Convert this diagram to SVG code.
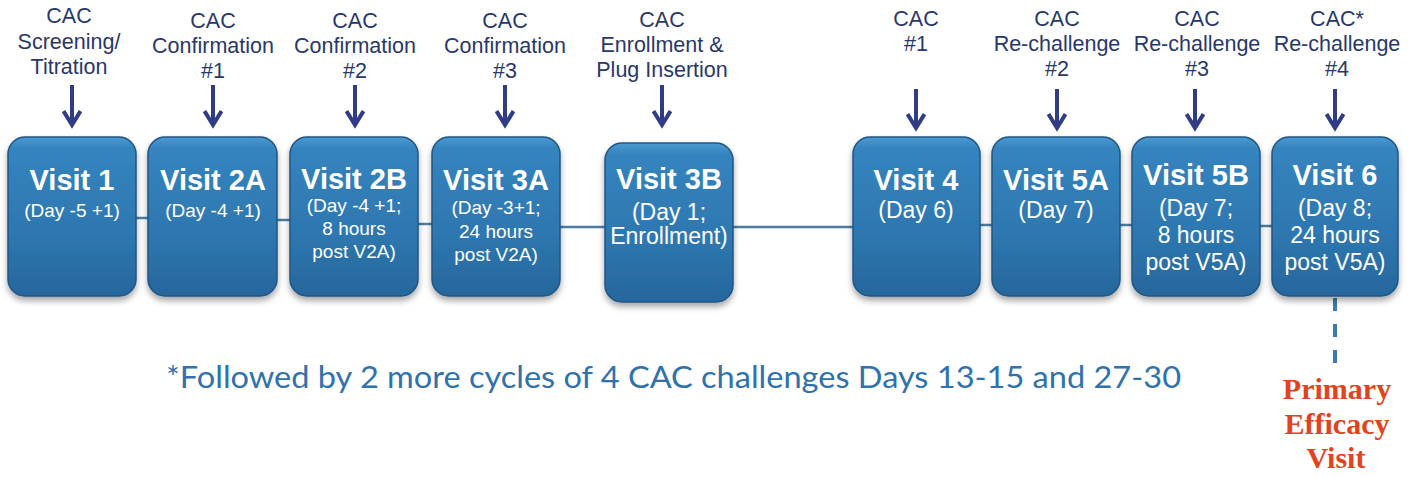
<svg xmlns="http://www.w3.org/2000/svg" width="1420" height="477" viewBox="0 0 1420 477">
<defs>
<linearGradient id="boxg" x1="0" y1="0" x2="0" y2="1">
<stop offset="0" stop-color="#4d99d1"/>
<stop offset="0.07" stop-color="#3584be"/>
<stop offset="0.6" stop-color="#2e77b0"/>
<stop offset="1" stop-color="#26679c"/>
</linearGradient>
<filter id="sh" x="-10%" y="-10%" width="120%" height="125%">
<feDropShadow dx="0" dy="4" stdDeviation="3" flood-color="#000" flood-opacity="0.35"/>
</filter>
<marker id="ah" viewBox="0 0 20 20" refX="16" refY="10" markerWidth="20" markerHeight="20" markerUnits="userSpaceOnUse" orient="auto">
<path d="M2,1.5 L16,10 L2,18.5" fill="none" stroke="#303c86" stroke-width="4" stroke-linejoin="miter"/>
</marker>
</defs>
<style>
.box{fill:url(#boxg);stroke:#1f5686;stroke-width:1.5;filter:url(#sh)}
.t{font-family:"Liberation Sans",Arial,sans-serif;font-weight:bold;font-size:29px;fill:#ffffff;text-anchor:middle}
.s{font-family:"Liberation Sans",Arial,sans-serif;font-size:19px;fill:#ffffff;text-anchor:middle}
.s2{font-family:"Liberation Sans",Arial,sans-serif;font-size:23px;fill:#ffffff;text-anchor:middle}
.lab{font-family:"Liberation Sans",Arial,sans-serif;font-size:21.5px;fill:#28386a;text-anchor:middle}
.arr{stroke:#303c86;stroke-width:4;fill:none}
.conn{stroke:#4a7ea6;stroke-width:2.5}
.note{font-family:Lato,"Open Sans",sans-serif;font-size:30px;fill:#2f72ad}
.pe{font-family:"Liberation Serif","Times New Roman",serif;font-weight:bold;font-size:30px;fill:#e2431d;text-anchor:middle}
</style>

<g id="connectors">
<line class="conn" x1="136" y1="218" x2="148" y2="218"/>
<line class="conn" x1="277" y1="220" x2="290" y2="220"/>
<line class="conn" x1="418" y1="224" x2="432" y2="224"/>
<line class="conn" x1="560" y1="227" x2="605" y2="227"/>
<line class="conn" x1="733" y1="227" x2="853" y2="227"/>
<line class="conn" x1="980" y1="225" x2="992" y2="225"/>
<line class="conn" x1="1120" y1="225" x2="1132" y2="225"/>
<line class="conn" x1="1260" y1="226" x2="1272" y2="226"/>
<line x1="1335" y1="298" x2="1335" y2="368" stroke="#3d7ab0" stroke-width="4" stroke-dasharray="13 13"/>
</g>

<g id="arrows">
<line class="arr" x1="72" y1="85" x2="72" y2="125" marker-end="url(#ah)"/>
<line class="arr" x1="213" y1="85" x2="213" y2="125" marker-end="url(#ah)"/>
<line class="arr" x1="355" y1="85" x2="355" y2="125" marker-end="url(#ah)"/>
<line class="arr" x1="505" y1="85" x2="505" y2="125" marker-end="url(#ah)"/>
<line class="arr" x1="662" y1="85" x2="662" y2="125" marker-end="url(#ah)"/>
<line class="arr" x1="916" y1="89" x2="916" y2="128" marker-end="url(#ah)"/>
<line class="arr" x1="1057" y1="89" x2="1057" y2="128" marker-end="url(#ah)"/>
<line class="arr" x1="1195" y1="89" x2="1195" y2="128" marker-end="url(#ah)"/>
<line class="arr" x1="1335" y1="89" x2="1335" y2="128" marker-end="url(#ah)"/>
</g>

<g id="labels">
<text class="lab" x="69" y="23">CAC</text>
<text class="lab" x="69" y="49">Screening/</text>
<text class="lab" x="69" y="74">Titration</text>
<text class="lab" x="213" y="28">CAC</text>
<text class="lab" x="213" y="53">Confirmation</text>
<text class="lab" x="213" y="78">#1</text>
<text class="lab" x="355" y="28">CAC</text>
<text class="lab" x="355" y="53">Confirmation</text>
<text class="lab" x="355" y="78">#2</text>
<text class="lab" x="505" y="28">CAC</text>
<text class="lab" x="505" y="53">Confirmation</text>
<text class="lab" x="505" y="78">#3</text>
<text class="lab" x="662" y="27">CAC</text>
<text class="lab" x="662" y="52">Enrollment &amp;</text>
<text class="lab" x="662" y="77">Plug Insertion</text>
<text class="lab" x="916" y="26">CAC</text>
<text class="lab" x="916" y="51">#1</text>
<text class="lab" x="1057" y="26">CAC</text>
<text class="lab" x="1057" y="51">Re-challenge</text>
<text class="lab" x="1057" y="76">#2</text>
<text class="lab" x="1197" y="26">CAC</text>
<text class="lab" x="1197" y="51">Re-challenge</text>
<text class="lab" x="1197" y="76">#3</text>
<text class="lab" x="1337" y="26">CAC*</text>
<text class="lab" x="1337" y="51">Re-challenge</text>
<text class="lab" x="1337" y="76">#4</text>
</g>

<g id="v1">
<rect class="box" x="8" y="137" width="128" height="159" rx="17"/>
<text class="t" x="72" y="190">Visit 1</text>
<text class="s" x="72" y="217">(Day -5 +1)</text>
</g>
<g id="v2a">
<rect class="box" x="148" y="137" width="129" height="159" rx="17"/>
<text class="t" x="213" y="190">Visit 2A</text>
<text class="s" x="213" y="217">(Day -4 +1)</text>
</g>
<g id="v2b">
<rect class="box" x="290" y="137" width="128" height="159" rx="17"/>
<text class="t" x="354" y="189">Visit 2B</text>
<text class="s" x="354" y="212">(Day -4 +1;</text>
<text class="s" x="354" y="235">8 hours</text>
<text class="s" x="354" y="258">post V2A)</text>
</g>
<g id="v3a">
<rect class="box" x="432" y="137" width="128" height="159" rx="17"/>
<text class="t" x="496" y="190">Visit 3A</text>
<text class="s" x="496" y="214">(Day -3+1;</text>
<text class="s" x="496" y="238">24 hours</text>
<text class="s" x="496" y="261">post V2A)</text>
</g>
<g id="v3b">
<rect class="box" x="605" y="143" width="128" height="159" rx="17"/>
<text class="t" x="669" y="189">Visit 3B</text>
<text class="s2" x="669" y="220">(Day 1;</text>
<text class="s2" x="669" y="244">Enrollment)</text>
</g>
<g id="v4">
<rect class="box" x="853" y="137" width="127" height="159" rx="17"/>
<text class="t" x="916" y="190">Visit 4</text>
<text class="s2" x="916" y="218">(Day 6)</text>
</g>
<g id="v5a">
<rect class="box" x="992" y="137" width="128" height="159" rx="17"/>
<text class="t" x="1056" y="190">Visit 5A</text>
<text class="s2" x="1056" y="218">(Day 7)</text>
</g>
<g id="v5b">
<rect class="box" x="1132" y="137" width="128" height="159" rx="17"/>
<text class="t" x="1196" y="185">Visit 5B</text>
<text class="s2" x="1196" y="216">(Day 7;</text>
<text class="s2" x="1196" y="243">8 hours</text>
<text class="s2" x="1196" y="270">post V5A)</text>
</g>
<g id="v6">
<rect class="box" x="1272" y="137" width="126" height="159" rx="17"/>
<text class="t" x="1335" y="185">Visit 6</text>
<text class="s2" x="1335" y="216">(Day 8;</text>
<text class="s2" x="1335" y="243">24 hours</text>
<text class="s2" x="1335" y="270">post V5A)</text>
</g>

<g id="note">
<text class="note" x="166" y="388" textLength="1015" lengthAdjust="spacingAndGlyphs">*Followed by 2 more cycles of 4 CAC challenges Days 13-15 and 27-30</text>
</g>
<g id="primary">
<text class="pe" x="1337" y="399">Primary</text>
<text class="pe" x="1337" y="434">Efficacy</text>
<text class="pe" x="1336" y="468">Visit</text>
</g>
</svg>
